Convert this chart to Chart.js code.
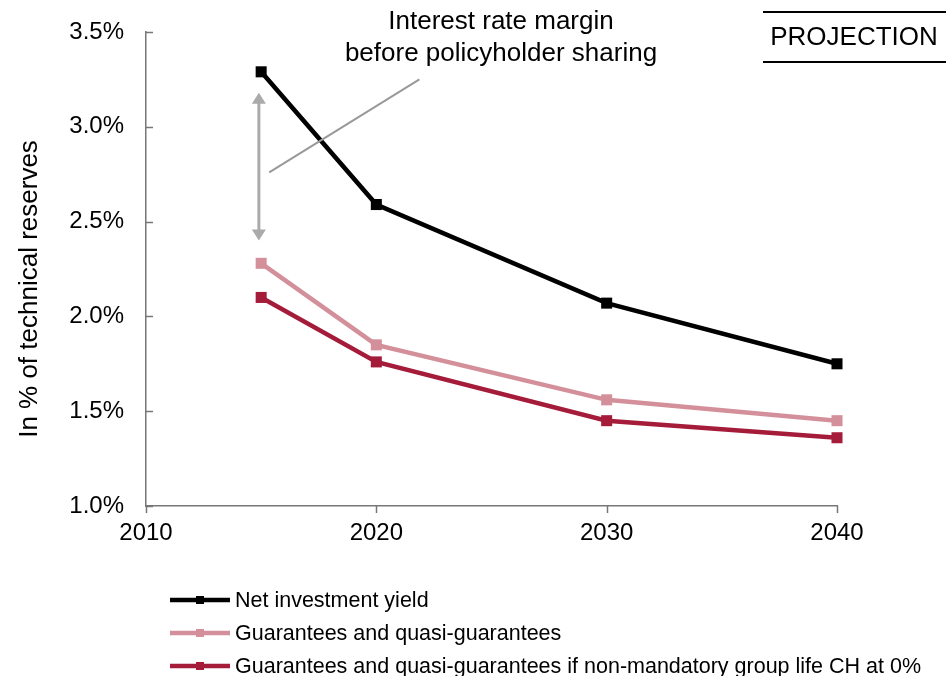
<!DOCTYPE html>
<html>
<head>
<meta charset="utf-8">
<script src="https://cdn.jsdelivr.net/npm/chart.js@4.4.1/dist/chart.umd.min.js"></script>
<style>
  html, body { margin: 0; padding: 0; background: #fff; }
  #wrap { position: relative; width: 946px; height: 676px; }
</style>
</head>
<body>
<div id="wrap"><canvas id="chart" width="946" height="676"></canvas></div>
<script>
const years = [2015, 2020, 2030, 2040];
const netYield = [3.29, 2.59, 2.07, 1.75];
const guarantees = [2.28, 1.85, 1.56, 1.45];
const guaranteesGroupLife = [2.10, 1.76, 1.45, 1.36];

const seriesNames = [
  'Net investment yield',
  'Guarantees and quasi-guarantees',
  'Guarantees and quasi-guarantees if non-mandatory group life CH at 0%'
];
const seriesColors = ['#000000', '#d4909a', '#a51c3a'];

const yTicks = [1.0, 1.5, 2.0, 2.5, 3.0, 3.5];
const xTicks = [2010, 2020, 2030, 2040];

const FONT = '"Liberation Sans", Arial, sans-serif';

function toPoints(values) {
  return years.map((yr, i) => ({ x: yr, y: values[i] }));
}

function series(idx, values) {
  return {
    label: seriesNames[idx],
    data: toPoints(values),
    borderColor: seriesColors[idx],
    backgroundColor: seriesColors[idx],
    pointBackgroundColor: seriesColors[idx],
    borderWidth: 4.5,
    pointStyle: 'rect',
    pointRadius: 7.8,
    pointBorderWidth: 0,
    tension: 0,
    clip: false
  };
}

// tick marks, arrow, notes and legend drawn on top of the plot
const extras = {
  id: 'extras',
  afterDraw(chart) {
    const ctx = chart.ctx;
    const xs = chart.scales.x, ys = chart.scales.y;
    const area = chart.chartArea;
    ctx.save();

    // y ticks pointing into the plot, x ticks pointing down
    ctx.strokeStyle = '#777';
    ctx.lineWidth = 1.5;
    yTicks.forEach(v => {
      const y = Math.round(ys.getPixelForValue(v)) + 0.5;
      ctx.beginPath(); ctx.moveTo(area.left, y); ctx.lineTo(area.left + 7, y); ctx.stroke();
    });
    xTicks.forEach(v => {
      const x = Math.round(xs.getPixelForValue(v)) + 0.5;
      ctx.beginPath(); ctx.moveTo(x, area.bottom); ctx.lineTo(x, area.bottom + 7); ctx.stroke();
    });

    // y axis title
    ctx.fillStyle = '#000';
    ctx.font = '26px ' + FONT;
    ctx.textAlign = 'center';
    ctx.textBaseline = 'middle';
    ctx.save();
    ctx.translate(30, 289);
    ctx.rotate(-Math.PI / 2);
    ctx.fillText('In % of technical reserves', 0, 0);
    ctx.restore();

    // double arrow for the margin
    const ax = xs.getPixelForValue(2014.9);
    const aTop = ys.getPixelForValue(3.18);
    const aBot = ys.getPixelForValue(2.40);
    ctx.strokeStyle = '#aaaaaa';
    ctx.fillStyle = '#aaaaaa';
    ctx.lineWidth = 3;
    ctx.beginPath(); ctx.moveTo(ax, aTop + 10); ctx.lineTo(ax, aBot - 10); ctx.stroke();
    ctx.beginPath(); ctx.moveTo(ax, aTop); ctx.lineTo(ax - 7, aTop + 11); ctx.lineTo(ax + 7, aTop + 11); ctx.closePath(); ctx.fill();
    ctx.beginPath(); ctx.moveTo(ax, aBot); ctx.lineTo(ax - 7, aBot - 11); ctx.lineTo(ax + 7, aBot - 11); ctx.closePath(); ctx.fill();

    // leader line to the note
    ctx.strokeStyle = '#999999';
    ctx.lineWidth = 2;
    ctx.beginPath();
    ctx.moveTo(xs.getPixelForValue(2015.35), ys.getPixelForValue(2.76));
    ctx.lineTo(xs.getPixelForValue(2021.87), ys.getPixelForValue(3.25));
    ctx.stroke();

    // note text
    ctx.fillStyle = '#000';
    ctx.font = '26px ' + FONT;
    ctx.textAlign = 'center';
    ctx.fillText('Interest rate margin', 501, 22);
    ctx.fillText('before policyholder sharing', 501, 54);

    // PROJECTION tag
    ctx.strokeStyle = '#000';
    ctx.lineWidth = 2;
    ctx.beginPath(); ctx.moveTo(763, 12); ctx.lineTo(946, 12); ctx.stroke();
    ctx.beginPath(); ctx.moveTo(763, 62); ctx.lineTo(946, 62); ctx.stroke();
    ctx.fillText('PROJECTION', 854, 38);

    // legend
    ctx.textAlign = 'left';
    ctx.font = '21.5px ' + FONT;
    const rows = [600, 633, 666];
    chart.data.datasets.forEach((ds, i) => {
      const y = rows[i];
      ctx.strokeStyle = ds.borderColor;
      ctx.fillStyle = ds.borderColor;
      ctx.lineWidth = 4.5;
      ctx.beginPath(); ctx.moveTo(170, y); ctx.lineTo(230, y); ctx.stroke();
      ctx.fillRect(196, y - 4, 8, 8);
      ctx.fillStyle = '#000';
      ctx.fillText(ds.label, 235, y + 1);
    });

    ctx.restore();
  }
};

new Chart(document.getElementById('chart'), {
  type: 'line',
  data: {
    datasets: [
      series(0, netYield),
      series(1, guarantees),
      series(2, guaranteesGroupLife)
    ]
  },
  options: {
    responsive: false,
    animation: false,
    layout: { padding: { left: 0, right: 109, top: 32, bottom: 0 } },
    plugins: { legend: { display: false }, tooltip: { enabled: false } },
    scales: {
      x: {
        type: 'linear',
        min: 2010,
        max: 2040,
        afterFit(scale) { scale.height = 170; },
        afterBuildTicks(scale) { scale.ticks = xTicks.map(v => ({ value: v })); },
        grid: { display: false, drawTicks: false },
        border: { display: true, color: '#777', width: 1.5 },
        ticks: {
          padding: 13,
          color: '#000',
          font: { family: FONT, size: 24 },
          callback: v => String(v)
        }
      },
      y: {
        min: 1,
        max: 3.5,
        afterFit(scale) {
          scale.width = 146;
          scale.paddingTop = 0;
          scale.paddingBottom = 0;
        },
        afterBuildTicks(scale) { scale.ticks = yTicks.map(v => ({ value: v })); },
        grid: { display: false, drawTicks: false },
        border: { display: true, color: '#777', width: 1.5 },
        ticks: {
          padding: 22,
          color: '#000',
          font: { family: FONT, size: 24 },
          callback: v => v.toFixed(1) + '%'
        }
      }
    }
  },
  plugins: [extras]
});
</script>
</body>
</html>
